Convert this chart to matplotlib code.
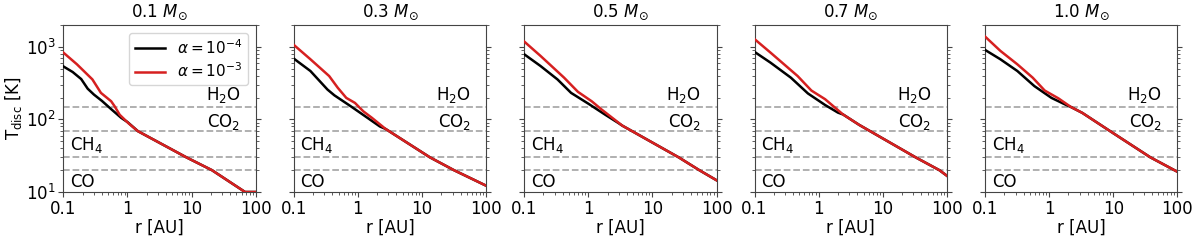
import numpy as np
import matplotlib
matplotlib.use('Agg')
import matplotlib.pyplot as plt

# masas estelares de cada panel
masas = ['0.1', '0.3', '0.5', '0.7', '1.0']

# parte interna, alpha = 1e-4 (negro)
r_bajo = [
    [0.1, 0.14, 0.19, 0.24, 0.3, 0.4, 0.55, 0.8, 1.0, 1.35],
    [0.1, 0.182, 0.336, 0.43, 0.79, 1.46, 2.2],
    [0.1, 0.18, 0.331, 0.54, 1.0, 1.84, 2.9],
    [0.1, 0.177, 0.369, 0.68, 1.26, 2.0],
    [0.1, 0.174, 0.32, 0.59, 1.09, 1.8],
]
T_bajo = [
    [538, 450, 360, 265, 220, 180, 140, 105, 92, 73],
    [690, 465, 258, 215, 150, 103, 80],
    [792, 545, 356, 232, 165, 116, 90],
    [853, 607, 376, 228, 158, 124],
    [910, 675, 465, 288, 198, 160],
]

# parte interna, alpha = 1e-3 (rojo)
r_alto = [
    [0.1, 0.163, 0.284, 0.386, 0.557, 0.63, 0.756, 1.03],
    [0.1, 0.182, 0.357, 0.486, 0.66, 0.90, 1.22, 1.66],
    [0.1, 0.18, 0.42, 0.69, 1.13, 1.63],
    [0.1, 0.177, 0.47, 0.77, 1.26, 1.82],
    [0.1, 0.174, 0.32, 0.556, 0.855, 1.4],
]
T_alto = [
    [835, 575, 356, 232, 178, 152, 116, 89],
    [1067, 675, 396, 273, 198, 169, 129, 105],
    [1187, 751, 376, 240, 178, 136],
    [1280, 835, 396, 250, 190, 144],
    [1393, 881, 575, 376, 250, 195],
]

# parte externa comun a ambas curvas
r_cola = [
    [1.45, 8.3, 20.7, 68, 100],
    [2.7, 13.3, 31.4, 100],
    [3.4, 25.7, 53.7, 100],
    [2.4, 4.29, 32.5, 76, 100],
    [2.2, 3.3, 9.9, 38, 100],
]
T_cola = [
    [69, 30, 20, 10, 10],
    [74, 30, 20, 12.2],
    [82, 30, 20, 14.5],
    [117, 84, 30, 20, 16.7],
    [148, 123, 65, 30, 19],
]

# lineas de hielo
T_hielo = [150, 70, 30, 20]

plt.rcParams['font.size'] = 12
fig = plt.figure(figsize=(12, 2.41), dpi=100)

for i in range(5):
    ax = fig.add_axes([(63.3 + 230.4 * i) / 1200, 49 / 241, 192.5 / 1200, 167 / 241])
    for Th in T_hielo:
        ax.axhline(Th, color='#aaaaaa', ls='--', lw=1.3, zorder=1)
    ax.plot(r_bajo[i] + r_cola[i], T_bajo[i] + T_cola[i], color='black', lw=1.8,
            label=r'$\alpha=10^{-4}$', zorder=3)
    ax.plot(r_alto[i] + r_cola[i], T_alto[i] + T_cola[i], color='#d62020', lw=1.8,
            label=r'$\alpha=10^{-3}$', zorder=4)
    ax.set_xscale('log')
    ax.set_yscale('log')
    ax.set_xlim(0.1, 100)
    ax.set_ylim(10, 2000)
    ax.set_xticks([0.1, 1, 10, 100])
    ax.set_xticklabels(['0.1', '1', '10', '100'])
    ax.tick_params(which='both', right=True, color='#444444', pad=2)
    for s in ax.spines.values():
        s.set_color('#444444')
    if i > 0:
        ax.set_yticklabels([])
    else:
        ax.set_ylabel(r'T$_{\rm disc}$ [K]', labelpad=1)
        ax.legend(loc='upper right', fontsize=11, labelspacing=0.3,
                  borderpad=0.35, handlelength=2.0)
    ax.set_xlabel('r [AU]', labelpad=1)
    ax.set_title(masas[i] + r' $M_{\odot}$', fontsize=12)

    tr = ax.get_yaxis_transform()
    ax.text(0.92, 158, r'H$_2$O', transform=tr, ha='right', va='bottom')
    ax.text(0.92, 126, r'CO$_2$', transform=tr, ha='right', va='top')
    ax.text(0.035, 32, r'CH$_4$', transform=tr, ha='left', va='bottom')
    ax.text(0.035, 18.5, 'CO', transform=tr, ha='left', va='top')

fig.savefig('out.png', dpi=100)
